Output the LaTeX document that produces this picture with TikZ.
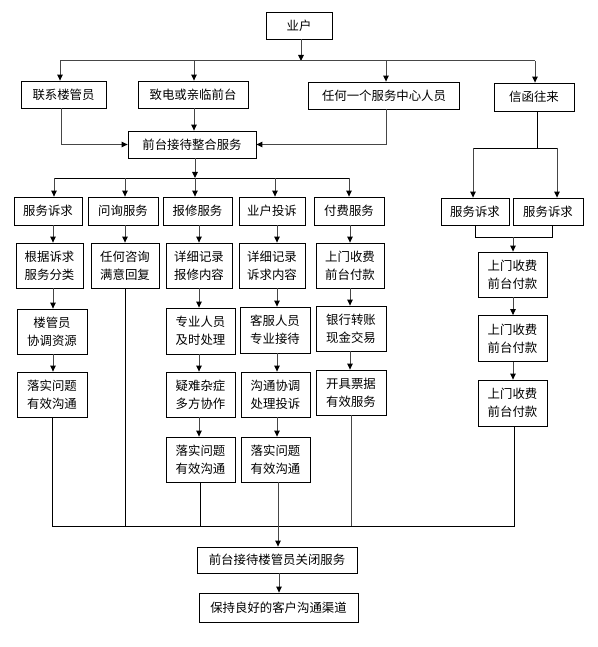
\documentclass[tikz,border=0pt]{standalone}
\usepackage{fontspec}
\newfontfamily\cjk{Noto Sans CJK SC}
\usetikzlibrary{arrows.meta}
\begin{document}
\begin{tikzpicture}[x=1pt,y=-1pt,
  box/.style={draw=black, line width=0.8pt, inner sep=0pt, align=center,
    font=\cjk\fontsize{12.4}{18}\selectfont, fill=white},
  arr/.style={draw=gray!55!black, line width=1pt, -{Triangle[black,length=6pt,width=5.5pt]}},
  ln/.style={draw=black, line width=0.8pt},
  gl/.style={draw=gray!55!black, line width=1pt}]
\useasboundingbox (0,0) rectangle (597,647);

% top level
\node[box,minimum width=66,minimum height=27] (yh) at (299,25.5) {业户};
\node[box,minimum width=85,minimum height=27] (lx) at (63.5,94.5) {联系楼管员};
\node[box,minimum width=110,minimum height=27] (zd) at (193,94.5) {致电或亲临前台};
\node[box,minimum width=151,minimum height=27] (rh) at (384,95.5) {任何一个服务中心人员};
\node[box,minimum width=80,minimum height=28] (xh) at (534,97) {信函往来};
\node[box,minimum width=128,minimum height=27] (qt) at (192,144.5) {前台接待整合服务};

% left columns
\node[box,minimum width=68,minimum height=28] (a1) at (48,211) {服务诉求};
\node[box,minimum width=67,minimum height=45] (a2) at (49.5,265.5) {根据诉求\\服务分类};
\node[box,minimum width=70,minimum height=45] (a3) at (52,331.5) {楼管员\\协调资源};
\node[box,minimum width=70,minimum height=45] (a4) at (52,394.5) {落实问题\\有效沟通};

\node[box,minimum width=70,minimum height=28] (b1) at (123,211) {问询服务};
\node[box,minimum width=68,minimum height=45] (b2) at (125,265.5) {任何咨询\\满意回复};

\node[box,minimum width=69,minimum height=28] (c1) at (197.5,211) {报修服务};
\node[box,minimum width=66,minimum height=45] (c2) at (199,265.5) {详细记录\\报修内容};
\node[box,minimum width=69,minimum height=46] (c3) at (200.5,331) {专业人员\\及时处理};
\node[box,minimum width=69,minimum height=45] (c4) at (200.5,394.5) {疑难杂症\\多方协作};
\node[box,minimum width=69,minimum height=45] (c5) at (200.5,459.5) {落实问题\\有效沟通};

\node[box,minimum width=66,minimum height=28] (d1) at (272,211) {业户投诉};
\node[box,minimum width=66,minimum height=45] (d2) at (272,265.5) {详细记录\\诉求内容};
\node[box,minimum width=70,minimum height=46] (d3) at (275,330) {客服人员\\专业接待};
\node[box,minimum width=69,minimum height=45] (d4) at (275.5,394.5) {沟通协调\\处理投诉};
\node[box,minimum width=69,minimum height=45] (d5) at (275.5,459.5) {落实问题\\有效沟通};

\node[box,minimum width=70,minimum height=28] (e1) at (349,211) {付费服务};
\node[box,minimum width=68,minimum height=45] (e2) at (350,265.5) {上门收费\\前台付款};
\node[box,minimum width=70,minimum height=45] (e3) at (351,328.5) {银行转账\\现金交易};
\node[box,minimum width=70,minimum height=45] (e4) at (351,392.5) {开具票据\\有效服务};

% right column
\node[box,minimum width=68,minimum height=27] (s1) at (475,211.5) {服务诉求};
\node[box,minimum width=70,minimum height=27] (s2) at (548,211.5) {服务诉求};
\node[box,minimum width=69,minimum height=45] (p1) at (512.5,274.5) {上门收费\\前台付款};
\node[box,minimum width=69,minimum height=46] (p2) at (512.5,338.5) {上门收费\\前台付款};
\node[box,minimum width=69,minimum height=46] (p3) at (512.5,403) {上门收费\\前台付款};

% bottom
\node[box,minimum width=160,minimum height=26] (cl) at (277,560) {前台接待楼管员关闭服务};
\node[box,minimum width=159,minimum height=29] (bh) at (278.5,607.5) {保持良好的客户沟通渠道};

% coordinates
\coordinate (t1) at (60,61);
\coordinate (t2) at (194,61);
\coordinate (t3) at (386,61);
\coordinate (t4) at (535,61);
\coordinate (k1) at (54,178);
\coordinate (k2) at (125,178);
\coordinate (k3) at (195,178);
\coordinate (k4) at (275,178);
\coordinate (k5) at (349,178);
\coordinate (X1) at (53,0);
\coordinate (X3) at (199,0);
\coordinate (X4) at (277,0);
\coordinate (X5) at (350,0);
\coordinate (xb) at (537,148);
\coordinate (xl) at (473,148);
\coordinate (xr) at (557,148);
\coordinate (m1) at (475,237);
\coordinate (m2) at (552,237);
\coordinate (m) at (513,237);
\coordinate (BL) at (52,526);
\coordinate (BR) at (515,526);

% top connectors
\draw[arr] (yh.south -| 301,0) -- (301,61);
\draw[gl] (t1) -- (t4);
\draw[arr] (t1) -- (lx.north -| t1);
\draw[arr] (t2) -- (zd.north -| t2);
\draw[arr] (t3) -- (rh.north -| t3);
\draw[arr] (t4) -- (xh.north -| t4);
\draw[arr] (zd.south -| t2) -- (qt.north -| t2);
\draw[arr] (lx.south -| 61,0) |- (qt.west);
\draw[arr] (rh.south -| t3) |- (qt.east);

% left bus
\draw[arr] (qt.south -| k3) -- (k3);
\draw[ln] (k1) -- (k5);
\foreach \k/\n in {k1/a1,k2/b1,k3/c1,k4/d1,k5/e1}
  \draw[arr] (\k) -- (\n.north -| \k);

% column arrows
\draw[arr] (a1.south -| X1) -- (a2.north -| X1);
\draw[arr] (a2.south -| X1) -- (a3.north -| X1);
\draw[arr] (a3.south -| X1) -- (a4.north -| X1);
\draw[arr] (b1.south -| k2) -- (b2.north -| k2);
\draw[arr] (c1.south -| X3) -- (c2.north -| X3);
\draw[arr] (c2.south -| X3) -- (c3.north -| X3);
\draw[arr] (c3.south -| X3) -- (c4.north -| X3);
\draw[arr] (c4.south -| X3) -- (c5.north -| X3);
\draw[arr] (d1.south -| X4) -- (d2.north -| X4);
\draw[arr] (d2.south -| X4) -- (d3.north -| X4);
\draw[arr] (d3.south -| X4) -- (d4.north -| X4);
\draw[arr] (d4.south -| X4) -- (d5.north -| X4);
\draw[arr] (e1.south -| X5) -- (e2.north -| X5);
\draw[arr] (e2.south -| X5) -- (e3.north -| X5);
\draw[arr] (e3.south -| X5) -- (e4.north -| X5);

% right side
\draw[ln] (xh.south -| xb) -- (xb);
\draw[ln] (xl) -- (xr);
\draw[arr] (xl) -- (s1.north -| xl);
\draw[arr] (xr) -- (s2.north -| xr);
\draw[ln] (s1.south -| m1) -- (m1) -- (m2) -- (s2.south -| m2);
\draw[arr] (m) -- (p1.north -| m);
\draw[arr] (p1.south -| m) -- (p2.north -| m);
\draw[arr] (p2.south -| m) -- (p3.north -| m);

% bottom gathering
\draw[ln] (BL) -- (BR);
\draw[ln] (a4.south -| BL) -- (BL);
\draw[ln] (b2.south -| k2) -- (k2 |- BL);
\draw[ln] (c5.south -| 200,0) -- (200,526);
\draw[gl] (e4.south -| 351,0) -- (351,526);
\draw[ln] (p3.south -| 514,0) -- (514,526);
\draw[arr] (d5.south -| 278,0) -- (cl.north -| 278,0);
\draw[arr] (cl.south -| 279,0) -- (bh.north -| 279,0);
\end{tikzpicture}
\end{document}
